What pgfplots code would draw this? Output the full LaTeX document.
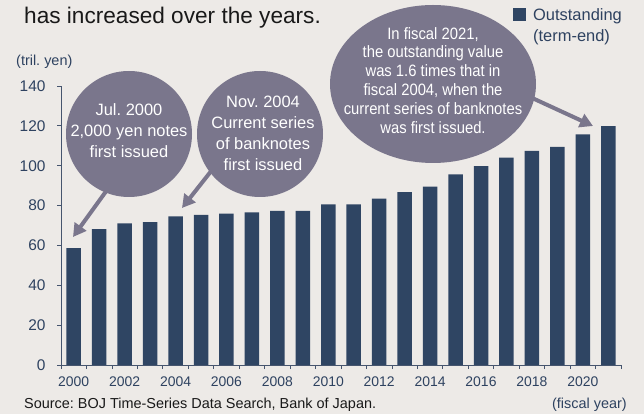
\documentclass[border=0pt]{standalone}
\usepackage{fontspec}
\setmainfont{Liberation Sans}
\newfontfamily\narrowfont[FakeStretch=0.9]{Liberation Sans}
\usepackage{pgfplots}
\pgfplotsset{compat=1.18}
\usetikzlibrary{arrows.meta}
\definecolor{bg}{RGB}{237,234,231}
\definecolor{barc}{RGB}{47,69,99}
\definecolor{bub}{RGB}{122,118,140}
\definecolor{tickc}{RGB}{46,66,96}
\definecolor{axl}{RGB}{70,85,110}
\frenchspacing
\begin{document}
\begin{tikzpicture}
\fill[bg] (0,0) rectangle (644bp,414bp);
\begin{axis}[
  at={(61bp,49bp)}, anchor=south west,
  scale only axis, width=560bp, height=279bp,
  xmin=1999.5, xmax=2021.5, ymin=0, ymax=140,
  axis x line*=bottom, axis y line*=left,
  axis line style={draw=axl, line width=0.8bp, -},
  tick align=outside, major tick length=4bp,
  tick style={draw=axl, line width=0.8bp},
  ytick={0,20,...,140},
  xtick={1999.5,2000.5,...,2021.5}, xticklabels={},
  extra x ticks={2000,2002,...,2020},
  extra x tick style={major tick length=0pt},
  /pgf/number format/1000 sep={},
  /pgf/number format/assume math mode=true,
  yticklabel style={font=\fontsize{15.5}{18}\selectfont, text=tickc, xshift=-8bp},
  xticklabel style={font=\fontsize{14}{17}\selectfont, text=tickc, yshift=-8bp},
]
\addplot[ybar, bar width=14.5bp, fill=barc, draw=none] coordinates {
(2000,58.6) (2001,68.2) (2002,71.1) (2003,71.7) (2004,74.6) (2005,75.3)
(2006,75.9) (2007,76.6) (2008,77.3) (2009,77.3) (2010,80.6) (2011,80.6)
(2012,83.5) (2013,86.8) (2014,89.5) (2015,95.7) (2016,99.8) (2017,104.0)
(2018,107.5) (2019,109.5) (2020,115.7) (2021,119.9)};
\end{axis}
\begin{scope}[x=1bp,y=-1bp,shift={(0bp,414bp)}]
  \fill[bub] (129,134) circle[radius=63];
  \fill[bub] (260,134) circle[radius=63];
  \fill[bub] (433,84) ellipse[x radius=103, y radius=79];
  \draw[bub, line width=4bp, -{Triangle[length=13bp,width=14bp]}] (107,190) -- (73,237);
  \draw[bub, line width=4bp, -{Triangle[length=13bp,width=14bp]}] (212,170) -- (182,208);
  \draw[bub, line width=4bp, -{Triangle[length=13bp,width=14bp]}] (530,97) -- (593,126);
  \node[text=white, align=center, font=\fontsize{16.5}{21}\selectfont] at (129,131) {Jul. 2000\\2,000 yen notes\\first issued};
  \node[text=white, align=center, font=\fontsize{16.5}{21}\selectfont] at (263,133.5) {Nov. 2004\\Current series\\of banknotes\\first issued};
  \node[text=white, align=center, font=\narrowfont\fontsize{16.5}{19}\selectfont] at (433,80.5) {In fiscal 2021,\\the outstanding value\\was 1.6 times that in\\fiscal 2004, when the\\current series of banknotes\\was first issued.};
  \node[anchor=base west, inner sep=0pt, text=black!90, font=\fontsize{22.7}{26}\selectfont] at (24,24) {has increased over the years.};
  \fill[barc] (513,8) rectangle (526,21);
  \node[anchor=west, inner sep=0pt, text=tickc, align=left, font=\fontsize{16.5}{21}\selectfont] at (533,26.5) {Outstanding\\(term-end)};
  \node[anchor=west, inner sep=0pt, text=tickc, font=\fontsize{14.5}{17}\selectfont] at (16,62) {(tril. yen)};
  \node[anchor=west, inner sep=0pt, text=black!90, font=\fontsize{14.5}{17}\selectfont] at (24,405) {Source: BOJ Time-Series Data Search, Bank of Japan.};
  \node[anchor=east, inner sep=0pt, text=tickc, font=\fontsize{14.5}{17}\selectfont] at (627,405) {(fiscal year)};
\end{scope}
\end{tikzpicture}
\end{document}
